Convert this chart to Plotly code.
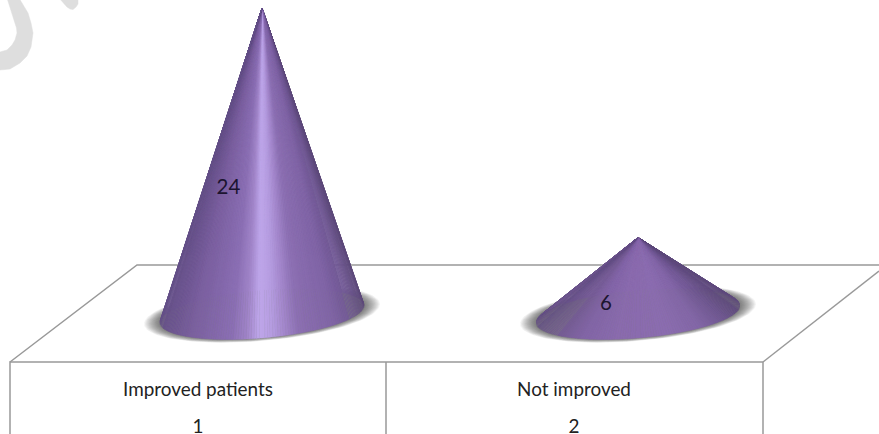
import numpy as np
import plotly.graph_objects as go

# Chart content
categories = ["Improved patients", "Not improved"]
category_numbers = ["1", "2"]
values = [24, 6]

W, H = 879, 434

# Axis scale: category 1 sits at pixel 262, category 2 at pixel 638; one unit is 12.75 px
PX_PER_CAT = 376.0
PX_PER_UNIT = 12.75
X0_PX, Y0_PX = 262.0, 314.0
x_range = [1 - X0_PX / PX_PER_CAT, 1 + (W - X0_PX) / PX_PER_CAT]
y_range = [(Y0_PX - H) / PX_PER_UNIT, Y0_PX / PX_PER_UNIT]


def dx(px):
    return 1 + (np.asarray(px, dtype=float) - X0_PX) / PX_PER_CAT


def dy(py):
    return (Y0_PX - np.asarray(py, dtype=float)) / PX_PER_UNIT


# Tilted elliptical base of a cone, in pixels relative to its centre
BASE_A = np.array([102.0, -8.5])
BASE_B = np.array([0.0, 24.0])

# Shading across the cone surface: position (-1 left .. 1 right) -> colour
RAMP_POS_TALL = [-1.0, -0.9, -0.7, -0.3, -0.15, -0.04, 0.0, 0.1, 0.22, 0.36, 0.7, 0.9, 1.0]
RAMP_COL_TALL = ["#665189", "#6c5590", "#7a5f9f", "#8b6fb4", "#a084c8", "#bca4e8", "#bda5e8",
                 "#b59ce0", "#a387cc", "#8c6fb2", "#8064a6", "#6f5792", "#5f4b7c"]
RAMP_POS_LOW = [-1.0, -0.85, -0.55, -0.2, 0.3, 0.6, 0.85, 1.0]
RAMP_COL_LOW = ["#644f86", "#70588f", "#8264a7", "#8a6bae", "#8b6cb0", "#8366a8", "#6f5692", "#5f4b7c"]


def hex_rgb(c):
    return np.array([int(c[i:i + 2], 16) for i in (1, 3, 5)], dtype=float)


def ramp_colour(s, pos, cols):
    rgb = np.array([hex_rgb(c) for c in cols])
    r = [np.interp(s, pos, rgb[:, k]) for k in range(3)]
    return "rgb(%d,%d,%d)" % tuple(int(round(v)) for v in r)


fig = go.Figure()

LINE = dict(color="#999999", width=1.5)
FLOOR_PATHS = [
    [(10, 362), (137, 265), (879, 265)],
    [(10, 434), (10, 362), (763, 362), (763, 434)],
    [(763, 362), (879, 271)],
    [(386, 362), (386, 434)],
]
for path in FLOOR_PATHS:
    xs, ys = zip(*path)
    fig.add_trace(go.Scatter(x=dx(xs), y=dy(ys), mode="lines", line=LINE))

# Pale watermark strokes in the top-left corner
WM_ARC = [(7, -2), (13, 17), (16.5, 28), (17, 33), (15, 40), (12, 45), (7, 50), (0, 52),
          (-2, 52), (-2, 70), (0, 70), (10, 69), (20, 63), (27, 56), (31, 47), (33, 33), (31, 23), (28, 13), (19, -2)]
WM_TICK = [(59, -2), (67, 7), (70, 9), (73, 9.5), (76, 7), (78, 4), (78, -2)]
for path in (WM_ARC, WM_TICK):
    xs, ys = zip(*path)
    fig.add_trace(go.Scatter(x=dx(xs), y=dy(ys), mode="lines", fill="toself",
                             fillcolor="#dedede", line=dict(color="#dedede", width=0.5)))

t = np.linspace(0, 2 * np.pi, 121)
SLICES = 240
SHADOW_LAYERS = 20

for i, v in enumerate(values):
    cx_px = X0_PX + i * PX_PER_CAT
    # soft contact shadow: nested ellipses that darken toward the base
    for k in range(SHADOW_LAYERS):
        f = 1 - k / (SHADOW_LAYERS - 1)
        ax, by = BASE_A[0] + 16 * f, BASE_B[1] + 3 * f
        sx = cx_px + ax * np.cos(t)
        sy = Y0_PX + BASE_A[1] * np.cos(t) * (ax / BASE_A[0]) + by * np.sin(t)
        fig.add_trace(go.Scatter(x=dx(sx), y=dy(sy), mode="lines", fill="toself",
                                 fillcolor="rgba(40,40,40,0.042)", line=dict(width=0)))

    pos, cols = (RAMP_POS_TALL, RAMP_COL_TALL) if v > 12 else (RAMP_POS_LOW, RAMP_COL_LOW)
    apex_x, apex_y = dx(cx_px), float(v)

    # fan of thin triangles from the apex; rear half first, visible front half on top
    edges = np.linspace(np.pi, 3 * np.pi, SLICES + 1)
    for a, b in zip(edges[:-1], edges[1:]):
        m = np.linspace(a, b, 3)
        bx = cx_px + BASE_A[0] * np.cos(m) + BASE_B[0] * np.sin(m)
        by = Y0_PX + BASE_A[1] * np.cos(m) + BASE_B[1] * np.sin(m)
        s = float(np.cos((a + b) / 2))
        col = ramp_colour(s, pos, cols)
        fig.add_trace(go.Scatter(
            x=np.r_[apex_x, dx(bx), apex_x], y=np.r_[apex_y, dy(by), apex_y],
            mode="lines", fill="toself", fillcolor=col, line=dict(color=col, width=0.4)))

TEXT_FONT = dict(family="Lato, 'Open Sans', sans-serif", size=18.9, color="#222222")

# value labels on the cones
label_px = [(228.5, 188.5), (606, 304.5)]
fig.add_trace(go.Scatter(
    x=dx([p[0] for p in label_px]), y=dy([p[1] for p in label_px]),
    mode="text", text=[str(v) for v in values],
    textfont=dict(family=TEXT_FONT["family"], size=20.5, color="#1c1430"), textposition="middle center"))

# category table under the floor
cat_x = [198, 574]
fig.add_trace(go.Scatter(x=dx(cat_x), y=dy([391.5, 391.5]), mode="text", text=categories,
                         textfont=TEXT_FONT, textposition="middle center"))
fig.add_trace(go.Scatter(x=dx(cat_x), y=dy([428.5, 428.5]), mode="text", text=category_numbers,
                         textfont=TEXT_FONT, textposition="middle center"))

fig.update_layout(
    width=W, height=H, margin=dict(l=0, r=0, t=0, b=0),
    paper_bgcolor="white", plot_bgcolor="white", showlegend=False, hovermode=False,
    xaxis=dict(range=x_range, visible=False, fixedrange=True),
    yaxis=dict(range=y_range, visible=False, fixedrange=True),
)
fig.write_html("out.html", config=dict(displayModeBar=False))
